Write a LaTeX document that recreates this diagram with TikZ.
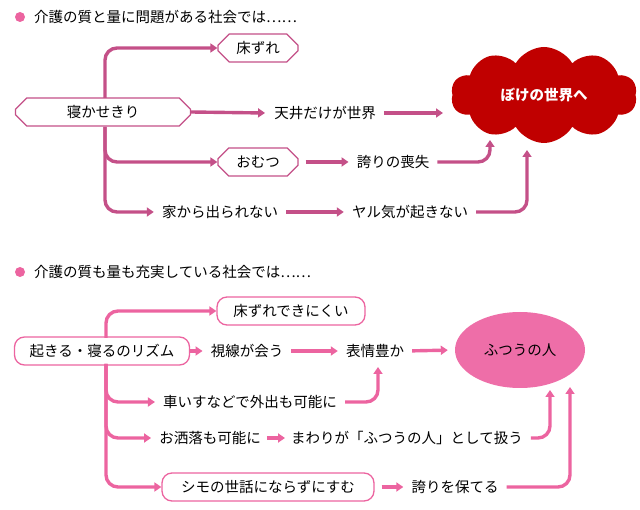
\documentclass[tikz,border=0pt]{standalone}
\usepackage{fontspec}
\setmainfont{Noto Sans CJK JP}
\usetikzlibrary{shapes.misc,shapes.symbols,shapes.geometric,arrows.meta}
\definecolor{darkpink}{RGB}{196,80,136}
\definecolor{lightpink}{RGB}{236,100,160}
\definecolor{cloudred}{RGB}{192,0,0}
\definecolor{ovalpink}{RGB}{238,110,168}
\tikzset{
  txt/.style={inner sep=1pt, font=\fontsize{14.5}{16}\selectfont},
  hexbox/.style={txt, chamfered rectangle, chamfered rectangle xsep=2cm, draw=darkpink, line width=1.3pt, fill=white, minimum height=28pt},
  roundbox/.style={txt, rounded corners=10pt, draw=lightpink, line width=1.3pt, fill=white, minimum height=28pt},
  darkarrow/.style={darkpink, line width=3.4pt, rounded corners=12pt, -{Triangle[length=7pt,width=9pt]}},
  pinkarrow/.style={lightpink, line width=3.4pt, rounded corners=12pt, -{Triangle[length=7pt,width=9pt]}},
  gap/.style={shorten <=7pt, shorten >=7pt},
  bullet/.style={circle, fill=lightpink, inner sep=0pt, minimum size=10pt}
}
\begin{document}
\begin{tikzpicture}[x=1pt,y=-1pt]
  \useasboundingbox (0,0) rectangle (640,510);
  % upper part
  \node[bullet] (b1) at (20,17) {};
  \node[txt, anchor=west] (t1) at (33,17) {介護の質と量に問題がある社会では……};
  \node[hexbox, minimum width=175pt] (neka) at (103,112) {寝かせきり};
  \node[hexbox, minimum width=80pt] (toko) at (258,48) {床ずれ};
  \node[hexbox, minimum width=80pt] (omu) at (258,162) {おむつ};
  \node[txt] (ten) at (325,113) {天井だけが世界};
  \node[txt] (hok) at (393,162) {誇りの喪失};
  \node[txt] (ie) at (220,212) {家から出られない};
  \node[txt] (yaru) at (410,212) {ヤル気が起きない};
  \node[cloud, cloud puffs=10, cloud puff arc=120, aspect=2, fill=cloudred, minimum width=186pt, minimum height=96pt, text=white, txt, font=\fontsize{14.5}{16}\selectfont\bfseries] (boke) at (544,95) {ぼけの世界へ};
  \draw[darkarrow] (105,98) |- (toko.west);
  \draw[darkarrow] (105,127) |- (omu.west);
  \draw[darkarrow] (105,127) |- ([xshift=-7pt]ie.west);
  \draw[darkarrow] (neka.east) -- ([xshift=-8pt]ten.west);
  \draw[darkarrow, gap] (ten.east) -- (450,113);
  \draw[darkarrow, gap] (omu.east) -- (hok.west);
  \draw[darkarrow, gap] (ie.east) -- (yaru.west);
  \draw[darkarrow, shorten <=7pt] (hok.east) -| (490,140);
  \draw[darkarrow, shorten <=7pt] (yaru.east) -| (527,150);
  % lower part
  \node[bullet] (b2) at (20,272) {};
  \node[txt, anchor=west] (t2) at (33,272) {介護の質も量も充実している社会では……};
  \node[roundbox, minimum width=175pt] (oki) at (102,351) {起きる・寝るのリズム};
  \node[roundbox, minimum width=148pt] (toko2) at (291,311) {床ずれできにくい};
  \node[txt] (shi) at (247,351) {視線が会う};
  \node[txt] (hyo) at (375,351) {表情豊か};
  \node[ellipse, fill=ovalpink, minimum width=130pt, minimum height=76pt, txt] (futsu) at (520,350) {ふつうの人};
  \node[txt] (kuru) at (250,402) {車いすなどで外出も可能に};
  \node[txt] (oshi) at (210,438) {お洒落も可能に};
  \node[txt] (mawa) at (407,438) {まわりが「ふつうの人」として扱う};
  \node[roundbox, minimum width=212pt] (shimo) at (268,487) {シモの世話にならずにすむ};
  \node[txt] (hoko) at (455,487) {誇りを保てる};
  \draw[pinkarrow] (106,338) |- (toko2.west);
  \draw[pinkarrow] (106,364) |- ([xshift=-7pt]kuru.west);
  \draw[pinkarrow] (106,364) |- ([xshift=-7pt]oshi.west);
  \draw[pinkarrow] (106,364) |- (shimo.west);
  \draw[pinkarrow, shorten >=7pt] (oki.east) -- (shi.west);
  \draw[pinkarrow, gap] (shi.east) -- (hyo.west);
  \draw[pinkarrow, gap] (hyo.east) -- (futsu.west);
  \draw[pinkarrow, shorten <=7pt] (kuru.east) -| (378,367);
  \draw[pinkarrow, shorten <=5pt, shorten >=5pt] (oshi.east) -- (mawa.west);
  \draw[pinkarrow, shorten <=7pt] (mawa.east) -| (550,390);
  \draw[pinkarrow, shorten <=7pt] (shimo.east) -- ([xshift=-7pt]hoko.west);
  \draw[pinkarrow, shorten <=7pt] (hoko.east) -| (570,387);
\end{tikzpicture}
\end{document}
